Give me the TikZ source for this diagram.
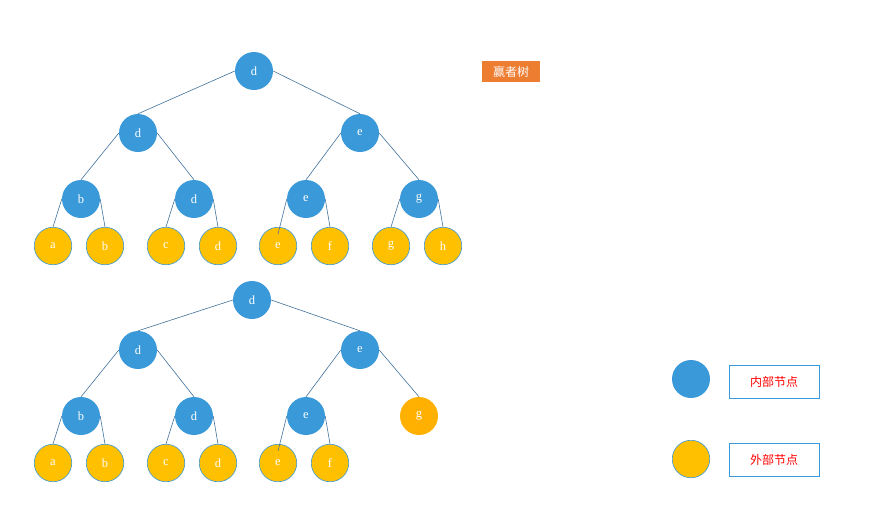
\documentclass[tikz,border=0pt]{standalone}
\usepackage{fontspec}
\setmainfont{Liberation Serif}
\newfontfamily\cjk{Noto Sans CJK SC}
\definecolor{inblue}{HTML}{3A99D8}
\definecolor{outyel}{HTML}{FFC000}
\definecolor{outorg}{HTML}{FFB000}
\definecolor{edgec}{HTML}{41719C}
\definecolor{titleorg}{HTML}{ED7D31}
\definecolor{legred}{HTML}{FF0000}
\begin{document}
\begin{tikzpicture}[x=1pt,y=-1pt,
  inner/.style={circle,fill=inblue,draw=none,minimum size=38pt,inner sep=0pt,text=white,font=\fontsize{12.5}{13}\selectfont},
  outer/.style={circle,fill=outyel,draw=inblue,line width=0.6pt,minimum size=37.5pt,inner sep=0pt,text=white,font=\fontsize{12.5}{13}\selectfont},
  outerg/.style={circle,fill=outorg,draw=none,minimum size=38pt,inner sep=0pt,text=white,font=\fontsize{12.5}{13}\selectfont},
  link/.style={draw=edgec,line width=0.6pt},
  legbox/.style={draw=inblue,line width=0.8pt,minimum width=90pt,minimum height=33pt,inner sep=0pt,text=legred,font=\cjk\fontsize{12}{14}\selectfont},
  titlebox/.style={fill=titleorg,minimum width=58pt,minimum height=21pt,inner sep=0pt,text=white,font=\cjk\fontsize{12}{14}\selectfont}]
\useasboundingbox (0,0) rectangle (877,512);
% ---- top tree ----
\node[inner] (r) at (254,71) {d};
\node[inner] (l1) at (138,133) {d};
\node[inner] (r1) at (360,133) {e};
\node[inner] (b2) at (81,199) {b};
\node[inner] (d2) at (194,199) {d};
\node[inner] (e2) at (306,199) {e};
\node[inner] (g2) at (419,199) {g};
\node[outer] (la) at (53,246) {a};
\node[outer] (lb) at (105,246) {b};
\node[outer] (lc) at (166,246) {c};
\node[outer] (ld) at (218,246) {d};
\node[outer] (le) at (278,246) {e};
\node[outer] (lf) at (330,246) {f};
\node[outer] (lg) at (391,246) {g};
\node[outer] (lh) at (443,246) {h};
\draw[link] (r.west) -- (l1.north);
\draw[link] (r.east) -- (r1.north);
\draw[link] (l1.west) -- (b2.north);
\draw[link] (l1.east) -- (d2.north);
\draw[link] (r1.west) -- (e2.north);
\draw[link] (r1.east) -- (g2.north);
\draw[link] (b2.west) -- (la.north);
\draw[link] (b2.east) -- (lb.north);
\draw[link] (d2.west) -- (lc.north);
\draw[link] (d2.east) -- (ld.north);
\draw[link] (e2.west) -- ([yshift=-7pt]le.north);
\draw[link] (e2.east) -- (lf.north);
\draw[link] (g2.west) -- (lg.north);
\draw[link] (g2.east) -- (lh.north);
% ---- title ----
\node[titlebox] (title) at (511,71.5) {赢者树};
% ---- bottom tree ----
\node[inner] (R) at (252,300) {d};
\node[inner] (L1) at (138,350) {d};
\node[inner] (R1) at (360,350) {e};
\node[inner] (B2) at (81,416) {b};
\node[inner] (D2) at (194,416) {d};
\node[inner] (E2) at (306,416) {e};
\node[outerg] (G2) at (419,416) {g};
\node[outer] (La) at (53,463) {a};
\node[outer] (Lb) at (105,463) {b};
\node[outer] (Lc) at (166,463) {c};
\node[outer] (Ld) at (218,463) {d};
\node[outer] (Le) at (278,463) {e};
\node[outer] (Lf) at (330,463) {f};
\draw[link] (R.west) -- (L1.north);
\draw[link] (R.east) -- (R1.north);
\draw[link] (L1.west) -- (B2.north);
\draw[link] (L1.east) -- (D2.north);
\draw[link] (R1.west) -- (E2.north);
\draw[link] (R1.east) -- (G2.north);
\draw[link] (B2.west) -- (La.north);
\draw[link] (B2.east) -- (Lb.north);
\draw[link] (D2.west) -- (Lc.north);
\draw[link] (D2.east) -- (Ld.north);
\draw[link] (E2.west) -- ([yshift=-7pt]Le.north);
\draw[link] (E2.east) -- (Lf.north);
% ---- legend ----
\node[inner] (legin) at (691,379) {};
\node[legbox] (legint) at (774,381.5) {内部节点};
\node[outer] (legout) at (691,459) {};
\node[legbox] (legoutt) at (774,459.5) {外部节点};
\end{tikzpicture}
\end{document}
